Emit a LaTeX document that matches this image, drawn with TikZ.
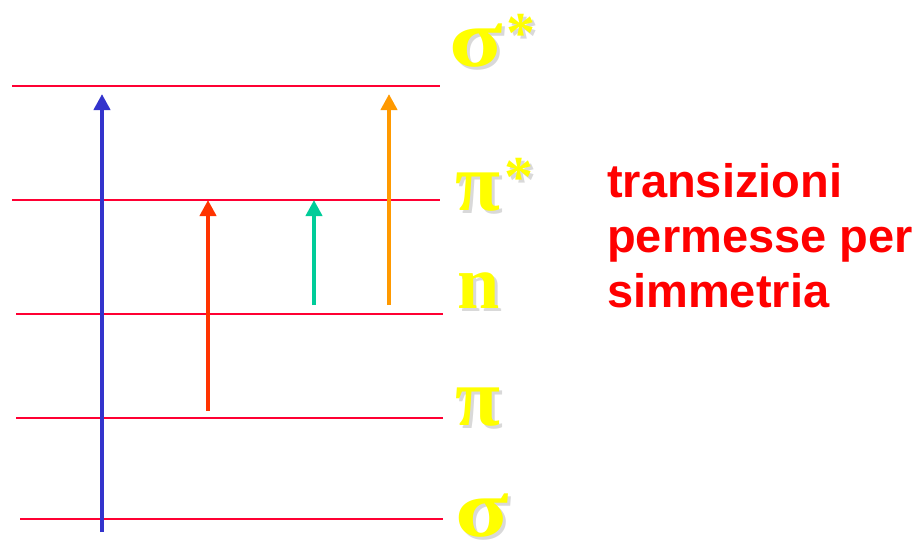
\documentclass[tikz,border=0pt]{standalone}
\usepackage{fontspec}
\setmainfont{Liberation Serif}
\newfontfamily\notesans{Liberation Sans}
\usepackage{xcolor}
\usetikzlibrary{arrows.meta, positioning}

\definecolor{levelred}{RGB}{255,0,51}
\definecolor{orbyellow}{RGB}{255,255,0}
\definecolor{tblue}{RGB}{51,51,204}
\definecolor{tred}{RGB}{255,51,0}
\definecolor{tgreen}{RGB}{0,204,153}
\definecolor{torange}{RGB}{255,153,0}
\definecolor{notered}{RGB}{255,0,0}

% yellow orbital symbol with a soft grey shadow
\newcommand{\orbtxt}[1]{{\color{gray!30}\rlap{\hspace{3pt}\raisebox{-3pt}{#1}}}#1}
\newcommand{\orbstar}{\hspace{4pt}\raisebox{14pt}{\fontsize{58}{58}\selectfont\orbtxt{*}}}
\newcommand{\widesig}{\scalebox{1.2}[1]{σ}}

\begin{document}
\begin{tikzpicture}[x=1pt, y=-1pt, >={Triangle[length=16pt,width=16pt]},
    level/.style={levelred, line width=2.6pt},
    trans/.style={->, line width=4.4pt},
    orb/.style={anchor=base west, inner sep=0pt, text=orbyellow,
      font=\bfseries\fontsize{82}{82}\selectfont},
    note/.style={anchor=base west, inner sep=0pt, align=left, text=notered,
      font=\notesans\bfseries\fontsize{47}{55}\selectfont}]
    \useasboundingbox (0,0) rectangle (921,539);

    % Levels
    \coordinate (ss0) at (12,86);  \coordinate (ss1) at (440,86);
    \coordinate (ps0) at (12,200); \coordinate (ps1) at (440,200);
    \coordinate (n0)  at (16,314); \coordinate (n1)  at (443,314);
    \coordinate (p0)  at (16,418); \coordinate (p1)  at (443,418);
    \coordinate (s0)  at (20,519); \coordinate (s1)  at (443,519);
    \draw[level] (ss0) -- (ss1);
    \draw[level] (ps0) -- (ps1);
    \draw[level] (n0) -- (n1);
    \draw[level] (p0) -- (p1);
    \draw[level] (s0) -- (s1);

    % Labels
    \node[orb] (lss) at (449,66)  {\orbtxt{\widesig}\orbstar};
    \node[orb] (lps) at (455,210) {\orbtxt{π}\orbstar};
    \node[orb, font=\bfseries\fontsize{76}{76}\selectfont]
               (ln)  at (457,308) {\orbtxt{n}};
    \node[orb] (lp)  at (455,425) {\orbtxt{π}};
    \node[orb] (ls)  at (455,536) {\orbtxt{\widesig}};

    % Transitions
    \coordinate (a0) at (102,532); \coordinate (a1) at (102,94);
    \coordinate (b0) at (208,411); \coordinate (b1) at (208,200);
    \coordinate (c0) at (314,305); \coordinate (c1) at (314,200);
    \coordinate (d0) at (389,305); \coordinate (d1) at (389,94);
    \draw[trans, tblue]   (a0) -- (a1);
    \draw[trans, tred]    (b0) -- (b1);
    \draw[trans, tgreen]  (c0) -- (c1);
    \draw[trans, torange] (d0) -- (d1);

    % Note
    \node[note] (rule) at (607,307) {transizioni\\permesse per\\simmetria};
\end{tikzpicture}
\end{document}
